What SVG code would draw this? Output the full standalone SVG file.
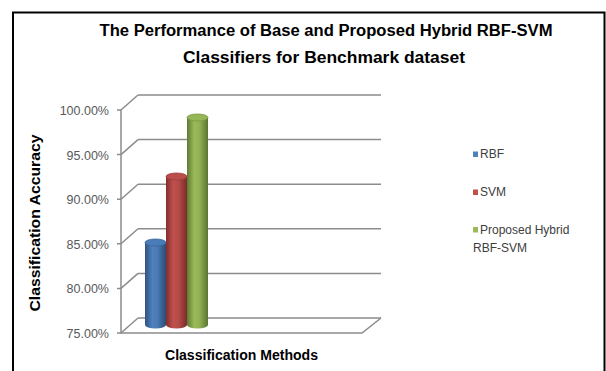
<svg xmlns="http://www.w3.org/2000/svg" width="606" height="371" viewBox="0 0 606 371">
<defs>
<linearGradient id="gBlue" x1="0" x2="1" y1="0" y2="0">
<stop offset="0" stop-color="#2e5380"/><stop offset="0.35" stop-color="#4f81bd"/><stop offset="0.6" stop-color="#4a79b3"/><stop offset="1" stop-color="#2c4c74"/>
</linearGradient>
<linearGradient id="gRed" x1="0" x2="1" y1="0" y2="0">
<stop offset="0" stop-color="#822f2d"/><stop offset="0.35" stop-color="#c0504d"/><stop offset="0.6" stop-color="#b44b48"/><stop offset="1" stop-color="#7a2c2a"/>
</linearGradient>
<linearGradient id="gGreen" x1="0" x2="1" y1="0" y2="0">
<stop offset="0" stop-color="#5f7a30"/><stop offset="0.35" stop-color="#9bbb59"/><stop offset="0.6" stop-color="#92b054"/><stop offset="1" stop-color="#5a7530"/>
</linearGradient>
<style>
.grid{stroke:#8c8c8c;stroke-width:1.5;fill:none}
.tick{font-family:"Liberation Sans",Arial,sans-serif;font-size:12.5px;fill:#595959;text-anchor:end}
.title{font-family:"Liberation Sans",Arial,sans-serif;font-weight:bold;font-size:16px;fill:#000;text-anchor:middle}
.axt{font-family:"Liberation Sans",Arial,sans-serif;font-weight:bold;font-size:14px;fill:#000;text-anchor:middle}
.leg{font-family:"Liberation Sans",Arial,sans-serif;font-size:12px;fill:#404040}
</style>
</defs>
<rect x="0" y="0" width="606" height="371" fill="#fff"/>
<path d="M13 380 V12.5 H604.5 V380" fill="none" stroke="#000" stroke-width="2"/>
<g id="title">
<text class="title" x="326" y="36" textLength="453" lengthAdjust="spacingAndGlyphs">The Performance of Base and Proposed Hybrid RBF-SVM</text>
<text class="title" x="324" y="63" textLength="282" lengthAdjust="spacingAndGlyphs">Classifiers for Benchmark dataset</text>
</g>
<g id="axes">
<path class="grid" d="M138 95 H381 M138 139.6 H381 M138 184.2 H381 M138 228.8 H381 M138 273.4 H381 M138 318 H381"/>
<path class="grid" d="M121 110 L138 95 M121 154.6 L138 139.6 M121 199.2 L138 184.2 M121 243.8 L138 228.8 M121 288.4 L138 273.4 M121 333 L138 318"/>
<path class="grid" d="M121 110 V333 H362 L381 318"/>
<path class="grid" d="M117 110 H121 M117 154.6 H121 M117 199.2 H121 M117 243.8 H121 M117 288.4 H121 M117 333 H121"/>
<text class="tick" x="109" y="115">100.00%</text>
<text class="tick" x="109" y="159.6">95.00%</text>
<text class="tick" x="109" y="204.2">90.00%</text>
<text class="tick" x="109" y="248.8">85.00%</text>
<text class="tick" x="109" y="293.4">80.00%</text>
<text class="tick" x="109" y="338">75.00%</text>
<text class="axt" transform="translate(40 223) rotate(-90)" x="0" y="0" textLength="177" lengthAdjust="spacingAndGlyphs">Classification Accuracy</text>
<text class="axt" x="241.5" y="360" textLength="153" lengthAdjust="spacingAndGlyphs">Classification Methods</text>
</g>
<g id="bar-rbf">
<path d="M145 242.5 V325 A10.5 3.5 0 0 0 166 325 V242.5 Z" fill="url(#gBlue)"/>
<ellipse cx="155.5" cy="242.5" rx="10.5" ry="3.5" fill="#4a7cb8" stroke="#3a6498" stroke-width="0.8"/>
</g>
<g id="bar-svm">
<path d="M166 176.5 V325 A10.5 3.5 0 0 0 187 325 V176.5 Z" fill="url(#gRed)"/>
<ellipse cx="176.5" cy="176.5" rx="10.5" ry="3.5" fill="#bb4d4a" stroke="#9a3e3b" stroke-width="0.8"/>
</g>
<g id="bar-hybrid">
<path d="M187 117.5 V325 A10.5 3.5 0 0 0 208 325 V117.5 Z" fill="url(#gGreen)"/>
<ellipse cx="197.5" cy="117.5" rx="10.5" ry="3.5" fill="#96b757" stroke="#7a9545" stroke-width="0.8"/>
</g>
<g id="legend">
<rect x="473" y="151.5" width="5" height="5.5" fill="#4f81bd"/>
<text class="leg" x="480" y="158">RBF</text>
<rect x="473" y="189.5" width="5" height="5.5" fill="#c0504d"/>
<text class="leg" x="480" y="196">SVM</text>
<rect x="473" y="227" width="5" height="5.5" fill="#9bbb59"/>
<text class="leg" x="480" y="233.5">Proposed Hybrid</text>
<text class="leg" x="473" y="251.5">RBF-SVM</text>
</g>
</svg>
